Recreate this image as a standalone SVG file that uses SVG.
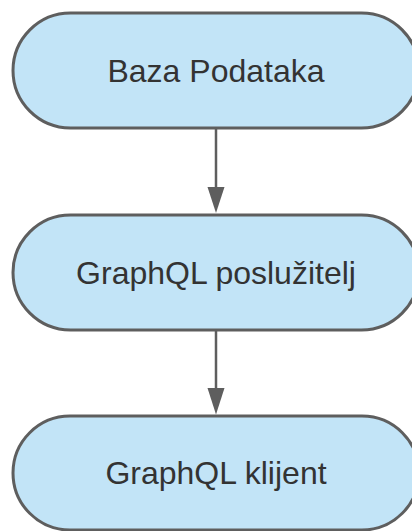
<svg xmlns="http://www.w3.org/2000/svg" width="412" height="531" viewBox="0 0 412 531">
<style>
.n rect{fill:#c2e4f7;stroke:#5e5e5e;stroke-width:3}
.n text{font-family:"Liberation Sans",Arial,sans-serif;font-size:32px;fill:#333;text-anchor:middle}
.c line{stroke:#5e5e5e;stroke-width:2.5}
.c polygon{fill:#5e5e5e}
</style>
<rect width="412" height="531" fill="#fff"/>
<g class="c" id="connectors">
<line x1="216" y1="128" x2="216" y2="190"/>
<polygon points="207.5,187 224.5,187 216,213"/>
<line x1="216" y1="330" x2="216" y2="391"/>
<polygon points="207.5,388 224.5,388 216,414.5"/>
</g>
<g class="n" id="node1">
<rect x="13" y="13" width="406" height="115" rx="57.5"/>
<text x="216" y="81.5">Baza Podataka</text>
</g>
<g class="n" id="node2">
<rect x="13" y="215" width="406" height="115" rx="57.5"/>
<text x="216" y="283.5">GraphQL poslužitelj</text>
</g>
<g class="n" id="node3">
<rect x="13" y="416" width="406" height="114" rx="57"/>
<text x="216" y="484">GraphQL klijent</text>
</g>
</svg>
